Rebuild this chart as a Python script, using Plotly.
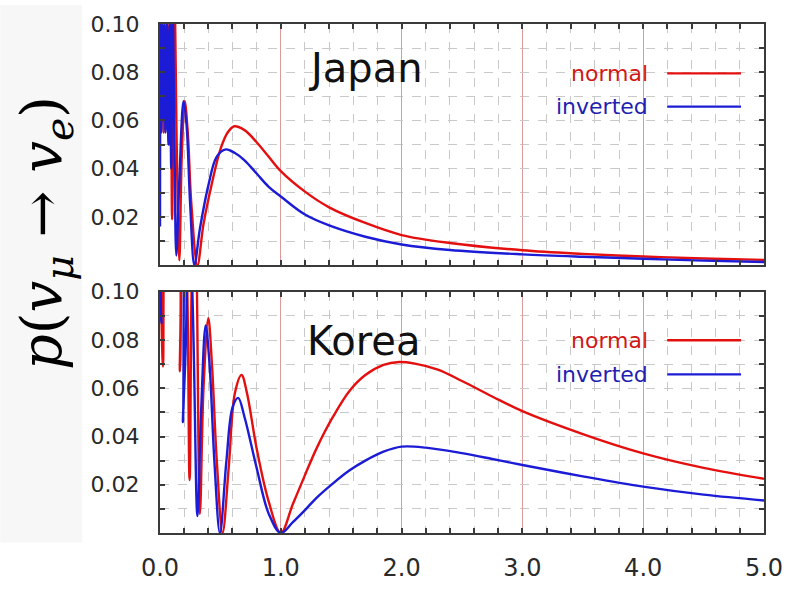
import plotly.graph_objects as go

# ---------------- data ----------------
# Japan, normal hierarchy
jp_normal_E = [0.004, 0.012, 0.02, 0.03, 0.04, 0.052, 0.064, 0.078, 0.09, 0.10, 0.12, 0.14, 0.16, 0.18,
               0.205, 0.23, 0.26, 0.31, 0.36, 0.43, 0.50, 0.56, 0.615, 0.70, 0.80, 0.90, 1.0,
               1.2, 1.4, 1.7, 2.0, 2.4, 3.0, 3.5, 4.0, 4.5, 5.0]
jp_normal_p = [0.10, 0.06, 0.10, 0.055, 0.10, 0.06, 0.10, 0.05, 0.10, 0.019, 0.11, 0.045, 0.002, 0.045,
               0.068, 0.055, 0.025, 0.0, 0.017, 0.034, 0.048, 0.055, 0.0576, 0.056, 0.051, 0.045, 0.039,
               0.0305, 0.024, 0.0175, 0.0125, 0.0092, 0.0062, 0.0047, 0.0036, 0.0028, 0.0022]
# Japan, inverted hierarchy
jp_inverted_E = [0.0, 0.004, 0.01, 0.018, 0.026, 0.036, 0.046, 0.058, 0.07, 0.082, 0.093, 0.105, 0.12, 0.135,
                 0.16, 0.195, 0.22, 0.25, 0.285, 0.33, 0.40, 0.47, 0.545, 0.62, 0.70, 0.80, 0.90, 1.0,
                 1.2, 1.4, 1.7, 2.0, 2.4, 3.0, 3.5, 4.0, 4.5, 5.0]
jp_inverted_p = [0.016, 0.10, 0.055, 0.10, 0.06, 0.10, 0.055, 0.10, 0.05, 0.10, 0.04, 0.105, 0.05, 0.004,
                 0.035, 0.068, 0.058, 0.025, 0.0, 0.015, 0.033, 0.045, 0.048, 0.0465, 0.0435, 0.038, 0.0325, 0.0285,
                 0.021, 0.0165, 0.0118, 0.0086, 0.0063, 0.0045, 0.0035, 0.0027, 0.0019, 0.0013]
# Korea, normal hierarchy
kr_normal_E = [0.0, 0.025, 0.05, 0.10, 0.14, 0.165, 0.19, 0.215, 0.245, 0.27, 0.29, 0.33, 0.36, 0.40,
               0.43, 0.47, 0.518, 0.57, 0.62, 0.675, 0.72, 0.80, 0.90, 1.0, 1.1, 1.2, 1.3, 1.43,
               1.57, 1.70, 1.85, 1.98, 2.1, 2.3, 2.5, 2.75, 3.0, 3.5, 4.0, 4.5, 5.0]
kr_normal_p = [0.13, 0.069, 0.13, 0.12, 0.12, 0.067, 0.13, 0.12, 0.022, 0.12, 0.13, 0.008, 0.06, 0.089,
               0.07, 0.03, 0.0, 0.028, 0.058, 0.0655, 0.058, 0.035, 0.013, 0.0, 0.012, 0.024, 0.0355, 0.048,
               0.059, 0.0655, 0.0697, 0.0709, 0.0703, 0.0677, 0.0630, 0.0566, 0.0505, 0.041, 0.033, 0.027, 0.0225]
# Korea, inverted hierarchy
kr_inverted_E = [0.0, 0.012, 0.03, 0.16, 0.19, 0.215, 0.25, 0.31, 0.34, 0.378, 0.41, 0.45, 0.496, 0.55,
                 0.60, 0.647, 0.70, 0.80, 0.90, 1.0, 1.1, 1.2, 1.3, 1.43, 1.57, 1.70, 1.85, 2.0, 2.2, 2.5,
                 2.75, 3.0, 3.5, 4.0, 4.5, 5.0]
kr_inverted_p = [0.12, 0.087, 0.13, 0.13, 0.046, 0.13, 0.12, 0.007, 0.05, 0.086, 0.07, 0.03, 0.0, 0.03,
                 0.052, 0.056, 0.048, 0.027, 0.008, 0.0, 0.0045, 0.0095, 0.0148, 0.0205, 0.026, 0.030, 0.0337,
                 0.0358, 0.0354, 0.0331, 0.0307, 0.0282, 0.0235, 0.0192, 0.0159, 0.0135]

x_tickvals = [0, 1, 2, 3, 4, 5]
x_ticktext = ["0.0", "1.0", "2.0", "3.0", "4.0", "5.0"]
y_tickvals = [0.02, 0.04, 0.06, 0.08, 0.10]
y_ticktext = ["0.02", "0.04", "0.06", "0.08", "0.10"]
panel_names = ["Japan", "Korea"]
series_names = ["normal", "inverted"]

RED = "#e41010"
BLUE = "#1c1cd6"
FONT = "DejaVu Sans"

fig = go.Figure()
line_kw = dict(shape="spline", smoothing=1.0, width=2.4)
fig.add_trace(go.Scatter(x=jp_normal_E, y=jp_normal_p, mode="lines", line=dict(color=RED, **line_kw),
                         xaxis="x", yaxis="y", showlegend=False))
fig.add_trace(go.Scatter(x=jp_inverted_E, y=jp_inverted_p, mode="lines", line=dict(color=BLUE, **line_kw),
                         xaxis="x", yaxis="y", showlegend=False))
fig.add_trace(go.Scatter(x=kr_normal_E, y=kr_normal_p, mode="lines", line=dict(color=RED, **line_kw),
                         xaxis="x2", yaxis="y2", showlegend=False))
fig.add_trace(go.Scatter(x=kr_inverted_E, y=kr_inverted_p, mode="lines", line=dict(color=BLUE, **line_kw),
                         xaxis="x2", yaxis="y2", showlegend=False))

GRID = "#c9c9c9"
FRAME = "#3a3a3a"


def xaxis_cfg(anchor, labels):
    return dict(
        domain=[0, 1], anchor=anchor, range=[0, 5],
        tickvals=x_tickvals, ticktext=x_ticktext,
        showticklabels=labels,
        ticks="inside", ticklen=5, tickcolor=FRAME, tickwidth=1.5,
        showgrid=True, gridcolor="#dc9a9a", gridwidth=1,
        minor=dict(dtick=0.2, tick0=0, ticks="inside", ticklen=5, tickcolor=FRAME,
                   showgrid=True, gridcolor=GRID, griddash="dash", gridwidth=1),
        showline=True, linecolor=FRAME, linewidth=2, mirror="allticks",
        zeroline=False, ticklabelstandoff=12,
        tickfont=dict(family=FONT, size=24, color="#2a2a2a"),
    )


def yaxis_cfg(domain, anchor):
    return dict(
        domain=domain, anchor=anchor, range=[0, 0.10],
        tickvals=y_tickvals, ticktext=y_ticktext,
        ticks="inside", ticklen=5, tickcolor=FRAME, tickwidth=1.5,
        showgrid=True, gridcolor=GRID, griddash="dash", gridwidth=1,
        minor=dict(dtick=0.01, tick0=0, ticks="inside", ticklen=5, tickcolor=FRAME,
                   showgrid=True, gridcolor=GRID, griddash="dash", gridwidth=1),
        showline=True, linecolor=FRAME, linewidth=2, mirror="allticks",
        zeroline=False, ticklabelstandoff=14,
        tickfont=dict(family=FONT, size=22, color="#2a2a2a"),
    )


W, H = 795, 594
L, R, T, B = 160, 30, 20, 38
PW, PH = W - L - R, H - T - B


def px2paper(px, py):
    return (px - L) / PW, (H - B - py) / PH


top_dom = [(H - B - 274) / PH, 1.0]
bot_dom = [0.0, (H - B - 302) / PH]

fig.update_layout(
    width=W, height=H, margin=dict(l=L, r=R, t=T, b=B),
    paper_bgcolor="white", plot_bgcolor="white",
    xaxis=xaxis_cfg("y", False), yaxis=yaxis_cfg(top_dom, "x"),
    xaxis2=xaxis_cfg("y2", True), yaxis2=yaxis_cfg(bot_dom, "x2"),
)

annotations = []
shapes = []
# light grey strip on the left
shapes.append(dict(type="rect", xref="paper", yref="paper",
                   x0=px2paper(0, 0)[0], x1=px2paper(82, 0)[0],
                   y0=px2paper(0, 566)[1], y1=px2paper(0, 0)[1],
                   fillcolor="#f7f7f7", line=dict(width=0), layer="below"))

# panel titles
for name, (cx, cy) in zip(panel_names, [(366, 66), (364, 354)]):
    px_, py_ = px2paper(cx, cy)
    annotations.append(dict(text=name, x=px_, y=py_, xref="paper", yref="paper", showarrow=False,
                            xanchor="center", yanchor="middle",
                            font=dict(family=FONT, size=40, color="#111111")))

# legends
for ys in [(72, 107), (353, 389)]:
    for sname, yy, col, tcol in zip(series_names, ys, [RED, BLUE], ["#d01818", "#1f1fb0"]):
        tx, ty = px2paper(651, yy)
        annotations.append(dict(text=sname, x=tx, y=ty, xref="paper", yref="paper", showarrow=False,
                                xanchor="right", yanchor="middle",
                                font=dict(family=FONT, size=22, color=tcol)))
        x0, _ = px2paper(668, yy)
        x1, _ = px2paper(742, yy)
        shapes.append(dict(type="line", xref="paper", yref="paper", x0=x0, x1=x1, y0=ty, y1=ty,
                           line=dict(color=col, width=2.4)))

# y-axis title
lx, ly = px2paper(46, 240)
annotations.append(dict(
    text="<i>p</i>(<i>v</i><sub><i>μ</i></sub> → <i>v</i><sub><i>e</i></sub>)",
    x=lx, y=ly, xref="paper", yref="paper", showarrow=False, textangle=-90,
    xanchor="center", yanchor="middle",
    font=dict(family="DejaVu Serif", size=56, color="#000000")))

fig.update_layout(annotations=annotations, shapes=shapes)
fig.write_html("out.html")
